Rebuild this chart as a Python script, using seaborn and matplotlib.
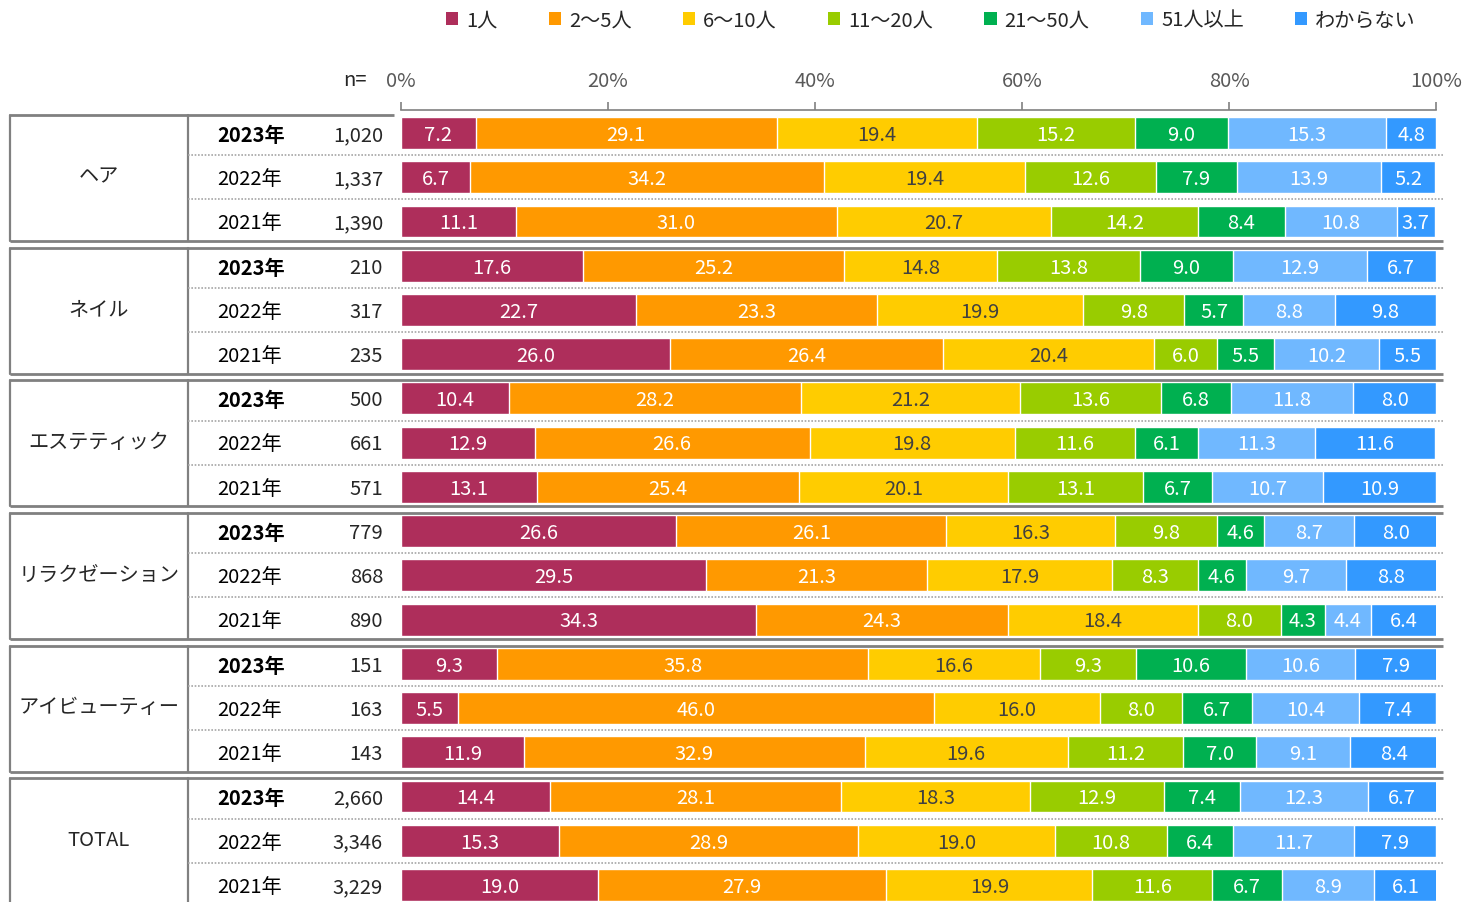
import numpy as np
import pandas as pd
import matplotlib
matplotlib.use("Agg")
import matplotlib.pyplot as plt
import matplotlib.transforms as mtransforms
from matplotlib.patches import Patch
import seaborn as sns

# ---- data ----
groups = ["ヘア", "ネイル", "エステティック", "リラクゼーション", "アイビューティー", "TOTAL"]
years = ["2023年", "2022年", "2021年"]
n_labels = ["1,020", "1,337", "1,390", "210", "317", "235", "500", "661", "571",
            "779", "868", "890", "151", "163", "143", "2,660", "3,346", "3,229"]
categories = ["1人", "2～5人", "6～10人", "11～20人", "21～50人", "51人以上", "わからない"]

p_1 = [7.2, 6.7, 11.1, 17.6, 22.7, 26.0, 10.4, 12.9, 13.1,
       26.6, 29.5, 34.3, 9.3, 5.5, 11.9, 14.4, 15.3, 19.0]
p_2_5 = [29.1, 34.2, 31.0, 25.2, 23.3, 26.4, 28.2, 26.6, 25.4,
         26.1, 21.3, 24.3, 35.8, 46.0, 32.9, 28.1, 28.9, 27.9]
p_6_10 = [19.4, 19.4, 20.7, 14.8, 19.9, 20.4, 21.2, 19.8, 20.1,
          16.3, 17.9, 18.4, 16.6, 16.0, 19.6, 18.3, 19.0, 19.9]
p_11_20 = [15.2, 12.6, 14.2, 13.8, 9.8, 6.0, 13.6, 11.6, 13.1,
           9.8, 8.3, 8.0, 9.3, 8.0, 11.2, 12.9, 10.8, 11.6]
p_21_50 = [9.0, 7.9, 8.4, 9.0, 5.7, 5.5, 6.8, 6.1, 6.7,
           4.6, 4.6, 4.3, 10.6, 6.7, 7.0, 7.4, 6.4, 6.7]
p_51 = [15.3, 13.9, 10.8, 12.9, 8.8, 10.2, 11.8, 11.3, 10.7,
        8.7, 9.7, 4.4, 10.6, 10.4, 9.1, 12.3, 11.7, 8.9]
p_unknown = [4.8, 5.2, 3.7, 6.7, 9.8, 5.5, 8.0, 11.6, 10.9,
             8.0, 8.8, 6.4, 7.9, 7.4, 8.4, 6.7, 7.9, 6.1]

colors = ["#AE2E5B", "#FF9900", "#FFCC00", "#99CC00", "#00B050", "#70B8FF", "#3399FF"]

# ---- long-form table with cumulative values for stacking ----
row_ids = [f"{g}|{y}" for g in groups for y in years]
vals = np.array([p_1, p_2_5, p_6_10, p_11_20, p_21_50, p_51, p_unknown]).T
cum = vals.cumsum(axis=1)
records = []
for i, rid in enumerate(row_ids):
    for j, cat in enumerate(categories):
        records.append({"row": rid, "cat": cat, "val": vals[i, j],
                        "cum": cum[i, j], "mid": cum[i, j] - vals[i, j] / 2})
df = pd.DataFrame(records)

sns.set_style("white")
plt.rcParams["font.family"] = ["Noto Sans CJK JP", "DejaVu Sans"]

FS = 14.5
W, H = 1463, 903
fig = plt.figure(figsize=(W / 100, H / 100), dpi=100)
ax = fig.add_axes([401 / W, 0, 1035 / W, 792 / H])

sns.barplot(data=df, x="cum", y="row", hue="cat", hue_order=categories[::-1],
            order=row_ids, palette=dict(zip(categories, colors)), dodge=False,
            width=0.72, orient="h", errorbar=None, saturation=1, legend=False, ax=ax)

# value labels
dy = 0.03  # nudge text down slightly to sit on the bar centre
for _, r in df.iterrows():
    i = row_ids.index(r["row"])
    tc = "#404040" if r["cat"] == "6～10人" else "white"
    ax.text(r["mid"], i + dy, f"{r['val']:.1f}", ha="center", va="center",
            fontsize=FS, color=tc)

# left table
trans = mtransforms.blended_transform_factory(fig.transFigure, ax.transData)
grey = "#808080"
for g, name in enumerate(groups):
    top, bot = 3 * g - 0.41, 3 * g + 2.44
    top_end = 394 / W if g == 0 else 1443 / W
    ax.plot([10 / W, top_end], [top, top], transform=trans, color=grey, lw=2,
            clip_on=False, solid_capstyle="butt")
    ax.plot([10 / W, 1443 / W], [bot, bot], transform=trans, color=grey, lw=2,
            clip_on=False, solid_capstyle="butt")
    for xv in (10, 188):
        ax.plot([xv / W, xv / W], [top, bot], transform=trans, color=grey, lw=1.6,
                clip_on=False)
    for k in (0.5, 1.5):
        ax.plot([188 / W, 1443 / W], [3 * g + k, 3 * g + k], transform=trans,
                color="#a6a6a6", lw=1.2, ls=(0, (1, 1)), clip_on=False)
    ax.text(99 / W, 3 * g + 0.97, name, transform=trans, ha="center", va="center",
            fontsize=FS, color="#262626")
    for k, y in enumerate(years):
        i = 3 * g + k
        ax.text(217 / W, i + dy, y, transform=trans, ha="left", va="center", fontsize=FS,
                color="#000000", fontweight="bold" if k == 0 else "normal")
        ax.text(383 / W, i + dy, n_labels[i], transform=trans, ha="right", va="center",
                fontsize=FS, color="#262626")

# axis
ax.set_xlim(0, 100)
ax.set_ylim(17.384, -0.52)
ax.set_xlabel("")
ax.set_ylabel("")
ax.set_yticks([])
ax.xaxis.tick_top()
ax.set_xticks(range(0, 101, 20))
ax.set_xticklabels([f"{v}%" for v in range(0, 101, 20)])
ax.tick_params(axis="x", top=True, bottom=False, direction="out", length=6, width=1.2,
               color=grey, labelcolor="#595959", pad=8, labelsize=FS)
for s in ["left", "right", "bottom"]:
    ax.spines[s].set_visible(False)
ax.spines["top"].set_color(grey)
ax.spines["top"].set_linewidth(1.2)

fig.text(367 / W, 1 - 80 / H, "n=", ha="right", va="center", fontsize=FS, color="#262626")

handles = [Patch(facecolor=c, edgecolor="none") for c in colors]
fig.legend(handles, categories, loc="center", bbox_to_anchor=(931 / W, 1 - 21 / H),
           ncol=7, frameon=False, fontsize=FS, handlelength=0.6, handleheight=0.6,
           handletextpad=0.4, columnspacing=2.55, labelcolor="#262626")

fig.savefig("out.png", dpi=100)
